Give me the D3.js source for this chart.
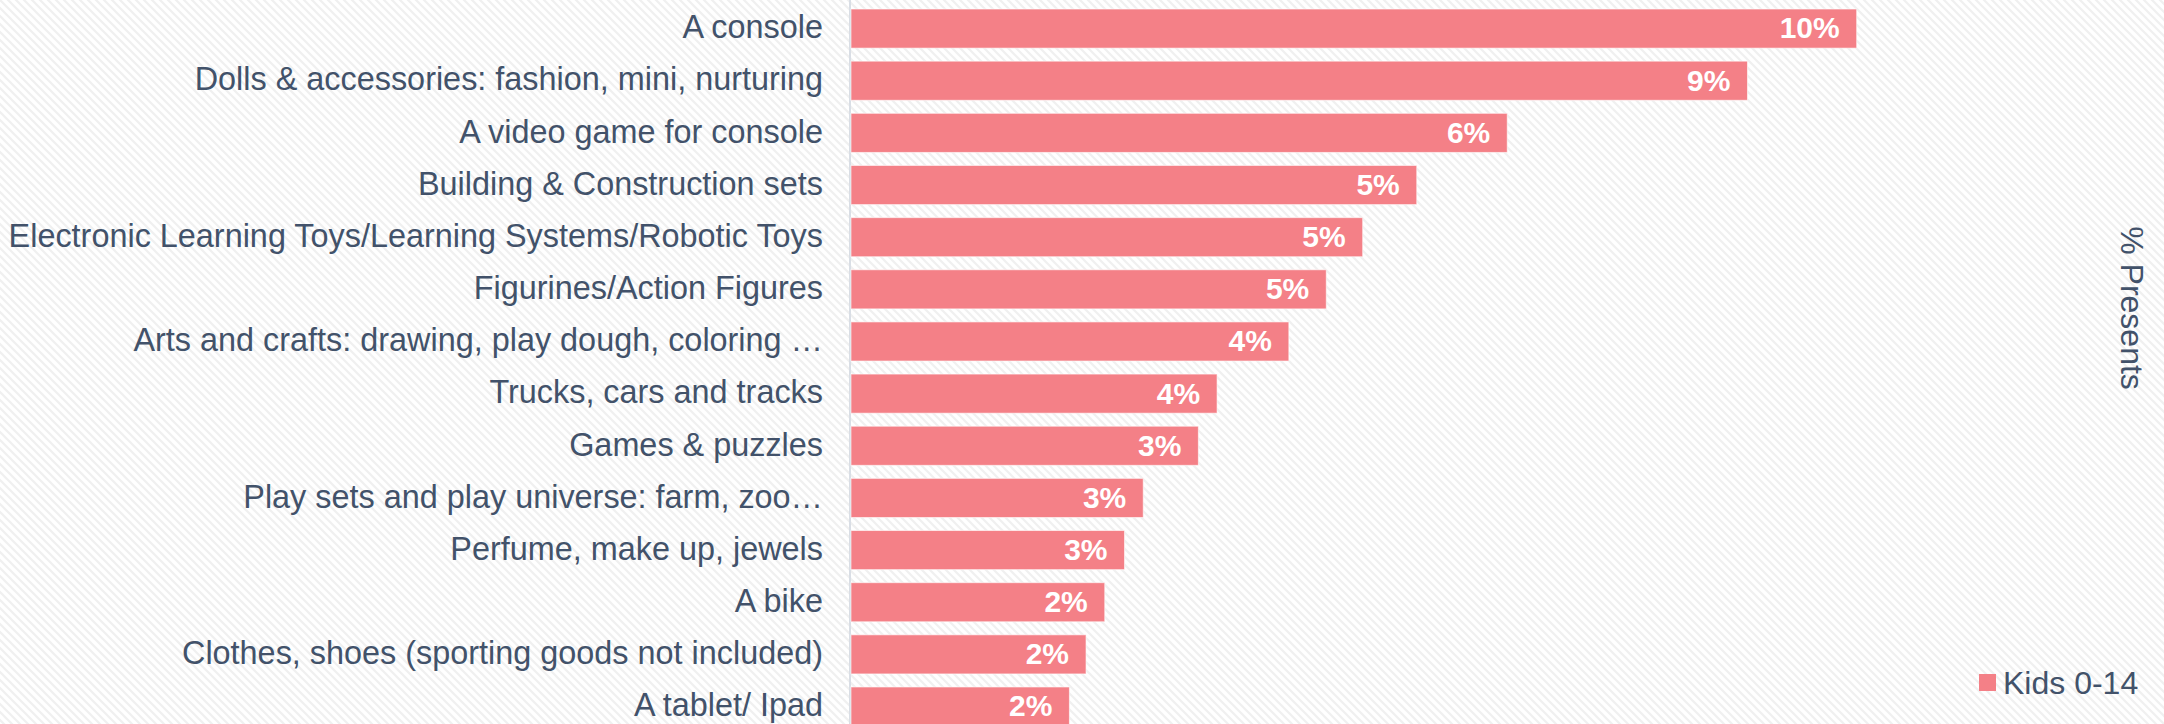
<!DOCTYPE html>
<html>
<head>
<meta charset="utf-8">
<script src="https://cdn.jsdelivr.net/npm/d3@7"></script>
<style>
  html, body { margin: 0; padding: 0; background: #fff; }
  svg { display: block; font-family: "Liberation Sans", Arial, sans-serif; }
</style>
</head>
<body>
<svg id="chart" width="2164" height="724"></svg>
<script>
// Share of presents by toy category (kids 0-14)
const categories = [
  "A console",
  "Dolls & accessories: fashion, mini, nurturing",
  "A video game for console",
  "Building & Construction sets",
  "Electronic Learning Toys/Learning Systems/Robotic Toys",
  "Figurines/Action Figures",
  "Arts and crafts: drawing, play dough, coloring …",
  "Trucks, cars and tracks",
  "Games & puzzles",
  "Play sets and play universe: farm, zoo…",
  "Perfume, make up, jewels",
  "A bike",
  "Clothes, shoes (sporting goods not included)",
  "A tablet/ Ipad"
];
const values = [0.0967, 0.0862, 0.0631, 0.0544, 0.0492, 0.0457, 0.0421, 0.0352, 0.0334, 0.0281, 0.0263, 0.0244, 0.0226, 0.0210];
const seriesName = "Kids 0-14";
const axisTitle = "% Presents";

const W = 2164, H = 724;
const barColor = "#f48087";
const textColor = "#42526a";

const svg = d3.select("#chart");

// diagonal hatch background
const defs = svg.append("defs");
const pat = defs.append("pattern")
  .attr("id", "hatch")
  .attr("patternUnits", "userSpaceOnUse")
  .attr("width", 8).attr("height", 8);
pat.append("rect").attr("width", 8).attr("height", 8).attr("fill", "#ffffff");
pat.append("path")
  .attr("d", "M-2,-2 L10,10 M-2,6 L2,10 M6,-2 L10,2")
  .attr("stroke", "#f0f0f0")
  .attr("stroke-width", 2.2);
svg.append("rect").attr("width", W).attr("height", H).attr("fill", "url(#hatch)");

const plotLeft = 851;
const x = d3.scaleLinear().domain([0, 0.12]).range([plotLeft, plotLeft + 1248]);
const y = d3.scaleBand().domain(categories).range([2.5, 732.6]).paddingInner(0.25).paddingOuter(0.125);

// category axis on the left
const yAxis = d3.axisLeft(y).tickSize(0).tickPadding(27);
const gy = svg.append("g").attr("transform", `translate(${plotLeft - 1},0)`).call(yAxis);
gy.select(".domain").attr("stroke", "#d9dee5").attr("stroke-width", 2).attr("d", `M0,0V${H}`);
gy.selectAll(".tick text")
  .attr("fill", textColor)
  .style("font-size", "32.4px")
  .attr("dy", "0.3em");

// bars
svg.append("g").selectAll("rect")
  .data(values)
  .join("rect")
  .attr("x", x(0))
  .attr("y", (d, i) => y(categories[i]))
  .attr("width", d => x(d) - x(0))
  .attr("height", y.bandwidth())
  .attr("fill", barColor)
  .attr("stroke", "#ffffff")
  .attr("stroke-opacity", 0.6)
  .attr("stroke-width", 1);

// value labels inside bar ends
const fmt = d3.format(".0%");
svg.append("g").selectAll("text")
  .data(values)
  .join("text")
  .attr("x", d => x(d) - 17)
  .attr("y", (d, i) => y(categories[i]) + y.bandwidth() / 2)
  .attr("dy", "0.33em")
  .attr("text-anchor", "end")
  .attr("fill", "#ffffff")
  .style("font-size", "30px")
  .style("font-weight", "bold")
  .text(d => fmt(d));

// axis title on the right, rotated
svg.append("text")
  .attr("transform", "translate(2121,308) rotate(90)")
  .attr("text-anchor", "middle")
  .attr("fill", textColor)
  .style("font-size", "32px")
  .text(axisTitle);

// legend
const lg = svg.append("g").attr("transform", "translate(1979,674)");
lg.append("rect").attr("width", 17).attr("height", 17).attr("fill", barColor);
lg.append("text")
  .attr("x", 24).attr("y", 8.5).attr("dy", "0.35em")
  .attr("fill", textColor)
  .style("font-size", "32px")
  .text(seriesName);
</script>
</body>
</html>
